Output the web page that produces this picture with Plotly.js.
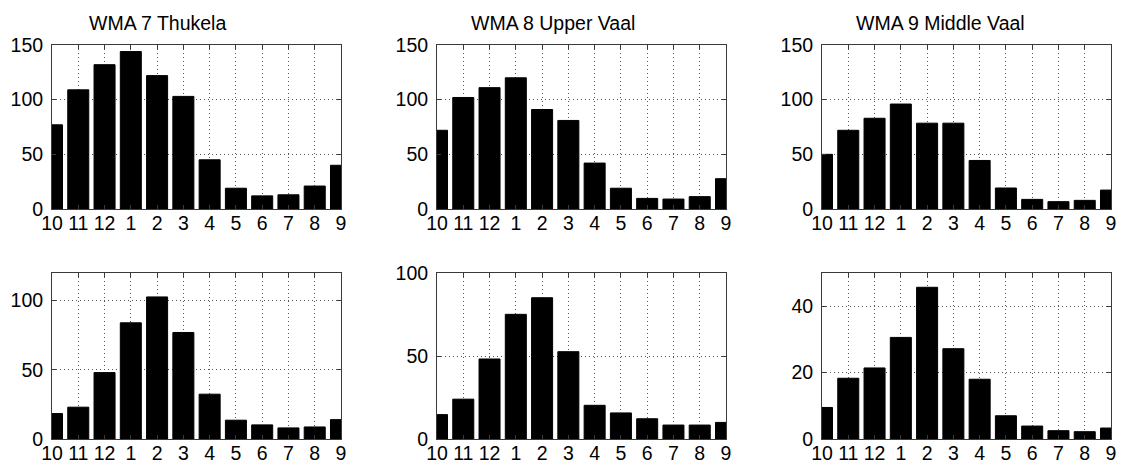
<!DOCTYPE html>
<html>
<head>
<meta charset="utf-8">
<script src="https://cdn.plot.ly/plotly-3.0.1.min.js"></script>
<style>html,body{margin:0;padding:0;background:#fff;}#chart{width:1125px;height:466px;}</style>
</head>
<body>
<div id="chart"></div>
<script>
const months = ["10","11","12","1","2","3","4","5","6","7","8","9"];
const titles = ["WMA 7 Thukela", "WMA 8 Upper Vaal", "WMA 9 Middle Vaal"];

const thukelaTop    = [77, 109, 132, 144, 122, 103, 45, 19, 12, 13, 21, 40];
const upperVaalTop  = [72, 102, 111, 120, 91, 81, 42, 19, 9.7, 9.1, 11.3, 27.7];
const middleVaalTop = [50, 72, 83, 96, 78.5, 78.5, 44.4, 19.2, 8.8, 6.7, 7.9, 17.3];

const thukelaBot    = [18.4, 23, 48, 84, 102.7, 77, 32.4, 13.6, 10.2, 8, 8.7, 14];
const upperVaalBot  = [14.7, 24, 48.2, 75.1, 85.1, 52.6, 20.3, 15.7, 12.2, 8.4, 8.4, 10];
const middleVaalBot = [9.5, 18.3, 21.4, 30.6, 45.7, 27.2, 18, 7, 3.9, 2.5, 2.2, 3.3];

const yRanges = [[0,150],[0,150],[0,150],[0,120],[0,100],[0,50]];
const yTicks  = [[0,50,100,150],[0,50,100,150],[0,50,100,150],[0,50,100],[0,50,100],[0,20,40]];

const series = [thukelaTop, upperVaalTop, middleVaalTop, thukelaBot, upperVaalBot, middleVaalBot];

const xDomains = [[0.04622,0.30311],[0.38844,0.64533],[0.73067,0.98756]];
const yDomains = [[0.55150,0.90343],[0.05794,0.41416]];

const traces = [];
const layout = {
  width: 1125, height: 466,
  margin: {l:0, r:0, t:0, b:0},
  paper_bgcolor: '#fff', plot_bgcolor: '#fff',
  showlegend: false,
  font: {family: 'Liberation Sans, Arial, sans-serif', size: 19, color: '#000'},
  bargap: 0.2,
  annotations: []
};

series.forEach((vals, i) => {
  const n = i + 1;
  const xa = n === 1 ? 'x' : 'x' + n;
  const ya = n === 1 ? 'y' : 'y' + n;
  traces.push({
    type: 'bar', x: months, y: vals, xaxis: xa, yaxis: ya,
    marker: {color: '#000', line: {color: '#000', width: 1}},
    hoverinfo: 'skip'
  });
  const col = i % 3, row = Math.floor(i / 3);
  const common = {
    showline: true, mirror: 'ticks', linecolor: '#3a3a3a', linewidth: 1,
    ticks: 'inside', ticklen: 4, tickcolor: '#3a3a3a',
    showgrid: true, gridcolor: '#555', griddash: '1px,3px', gridwidth: 1,
    zeroline: false, fixedrange: true,
    tickfont: {family: 'Liberation Sans, Arial, sans-serif', size: 19.5, color: '#000'}
  };
  layout['xaxis' + (n === 1 ? '' : n)] = Object.assign({}, common, {
    domain: xDomains[col], anchor: ya, type: 'category',
    categoryorder: 'array', categoryarray: months,
    range: [0, 11], ticklabelstandoff: -3
  });
  layout['yaxis' + (n === 1 ? '' : n)] = Object.assign({}, common, {
    domain: yDomains[row], anchor: xa, range: yRanges[i],
    tickmode: 'array', tickvals: yTicks[i], ticktext: yTicks[i].map(String),
    ticklabelstandoff: 4
  });
});

const titleX = [0.1404, 0.4916, 0.8356];
titles.forEach((t, i) => {
  layout.annotations.push({
    text: t, xref: 'paper', yref: 'paper', x: titleX[i], y: 0.9506,
    xanchor: 'center', yanchor: 'middle', showarrow: false,
    font: {family: 'Liberation Sans, Arial, sans-serif', size: 19.5, color: '#000'}
  });
});

Plotly.newPlot('chart', traces, layout, {displayModeBar: false, staticPlot: true});
</script>
</body>
</html>
